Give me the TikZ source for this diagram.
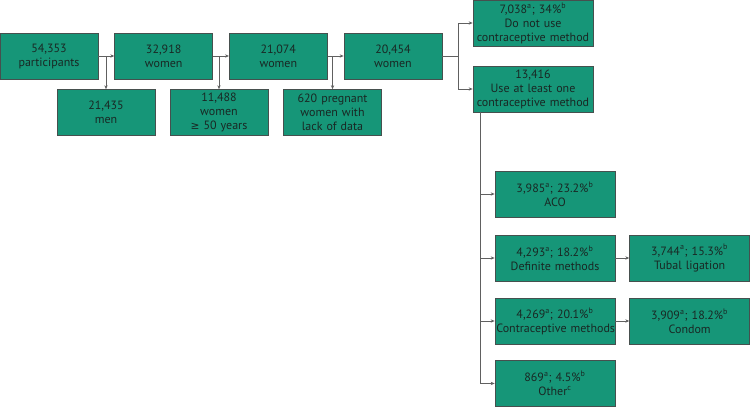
\documentclass[tikz,border=0pt]{standalone}
\usepackage{fontspec}
\setmainfont{PT Sans}
\newfontfamily\symfont{DejaVu Sans}
\usepackage{xcolor}
\usepackage{tikz}
\usetikzlibrary{arrows.meta,positioning}

\definecolor{boxgreen}{RGB}{22,150,120}
\definecolor{boxline}{RGB}{70,80,78}
\definecolor{boxtext}{RGB}{25,40,36}

\begin{document}
\begin{tikzpicture}[
    x=1pt, y=1pt,
    stage/.style={rectangle, draw=boxline, line width=0.5pt, fill=boxgreen, text=boxtext, text width=71.5pt, minimum height=34.5pt, align=center, inner sep=1pt, font=\fontsize{9}{10.5}\selectfont},
    wide/.style={stage, text width=88pt},
    link/.style={draw=gray!75!black, line width=0.5pt, -{Stealth[length=3pt,width=2.5pt]}}]
    \useasboundingbox (0,0) rectangle (562.5,-305.25);
    % main chain
    \node[stage] (part) at (36.75,-42) {54,353\\participants};
    \node[stage, right=12pt of part] (wom1) {32,918\\women};
    \node[stage, right=12pt of wom1] (wom2) {21,074\\women};
    \node[stage, right=12pt of wom2] (wom3) {20,454\\women};
    % exclusions
    \node[stage] (men) at (79.5,-84.4) {21,435\\men};
    \node[stage] (older) at (164.25,-84.4) {11,488\\women\\{\symfont\fontsize{8}{10}\selectfont ≥} 50 years};
    \node[stage] (preg) at (249.4,-84.4) {620 pregnant\\women with\\lack of data};
    % use of methods
    \node[wide] (nouse) at (399.75,-17.25) {7,038\textsuperscript{a}; 34\%\textsuperscript{b}\\Do not use\\contraceptive method};
    \node[wide] (use) at (399.75,-66.75) {13,416\\Use at least one\\contraceptive method};
    \node[wide] (aco) at (416.25,-145.5) {3,985\textsuperscript{a}; 23.2\%\textsuperscript{b}\\ACO};
    \node[wide] (defin) at (416.25,-193.5) {4,293\textsuperscript{a}; 18.2\%\textsuperscript{b}\\Definite methods};
    \node[wide, right=10.5pt of defin] (tubal) {3,744\textsuperscript{a}; 15.3\%\textsuperscript{b}\\Tubal ligation};
    \node[wide] (contra) at (416.25,-240.75) {4,269\textsuperscript{a}; 20.1\%\textsuperscript{b}\\\mbox{Contraceptive methods}};
    \node[wide, right=10.5pt of contra] (condom) {3,909\textsuperscript{a}; 18.2\%\textsuperscript{b}\\Condom};
    \node[wide] (other) at (416.25,-287.6) {869\textsuperscript{a}; 4.5\%\textsuperscript{b}\\Other\textsuperscript{c}};
    % connectors
    \draw[link] (part) -- (wom1);
    \draw[link] (wom1) -- (wom2);
    \draw[link] (wom2) -- (wom3);
    \draw[link] (part.east -| men.north) -- (men.north);
    \draw[link] (wom1.east -| older.north) -- (older.north);
    \draw[link] (wom2.east -| preg.north) -- (preg.north);
    \coordinate (split) at (343.5,-42);
    \draw[link] (wom3.east) -- (split) |- (nouse.west);
    \draw[link] (split) |- (use.west);
    \coordinate (trunk) at ([xshift=6pt]use.south west);
    \draw[link] (trunk) |- (aco.west);
    \draw[link] (trunk) |- (defin.west);
    \draw[link] (trunk) |- (contra.west);
    \draw[link] (trunk) |- (other.west);
    \draw[link] (defin) -- (tubal);
    \draw[link] (contra) -- (condom);
\end{tikzpicture}
\end{document}
